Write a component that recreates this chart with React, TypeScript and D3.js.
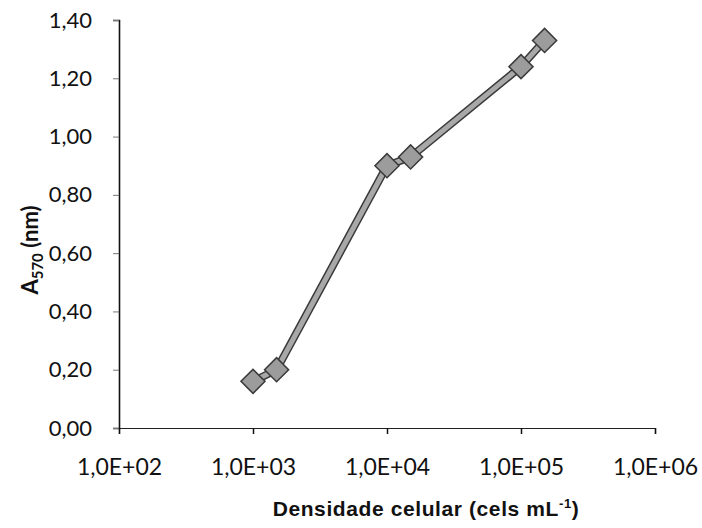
import React, { useEffect, useRef } from 'react';
import * as d3 from 'd3';

// cell density (cels/mL) and absorbance at 570 nm
const density = [1000, 1500, 10000, 15000, 100000, 150000];
const absorbance = [0.16, 0.2, 0.9, 0.93, 1.24, 1.33];
const xTicks = [1e2, 1e3, 1e4, 1e5, 1e6];
const yTicks = [0, 0.2, 0.4, 0.6, 0.8, 1.0, 1.2, 1.4];

const fmtY = (v) => v.toFixed(2).replace('.', ',');
const fmtX = (v) => '1,0E+' + String(Math.round(Math.log10(v))).padStart(2, '0');

const App = () => {
  const ref = useRef(null);

  useEffect(() => {
    if (ref.current) draw();
  }, []);

  const draw = () => {
    const left = 119,
      right = 655,
      top = 20,
      bottom = 428;

    const svg = d3.select(ref.current);
    svg.selectAll('*').remove();

    const x = d3.scaleLog().domain([1e2, 1e6]).range([left, right]);
    const y = d3.scaleLinear().domain([0, 1.4]).range([bottom, top]);

    const font = 'Lato, "Open Sans", sans-serif';

    // y axis
    const yAxis = svg
      .append('g')
      .attr('transform', `translate(${left},0)`)
      .call(d3.axisLeft(y).tickValues(yTicks).tickSize(6).tickFormat(fmtY));
    yAxis.select('.domain').attr('stroke', '#111').attr('stroke-width', 1.6);
    yAxis.selectAll('.tick line').attr('stroke', '#777').attr('stroke-width', 1);
    yAxis
      .selectAll('.tick text')
      .attr('x', -27)
      .attr('font-family', font)
      .attr('font-size', 22)
      .attr('fill', '#111');

    // x axis
    const xAxis = svg
      .append('g')
      .attr('transform', `translate(0,${bottom})`)
      .call(d3.axisBottom(x).tickValues(xTicks).tickSize(6).tickFormat(fmtX));
    xAxis.select('.domain').attr('stroke', '#222').attr('stroke-width', 1.2);
    xAxis.selectAll('.tick line').attr('stroke', '#111').attr('stroke-width', 1.5);
    xAxis
      .selectAll('.tick text')
      .attr('y', 31)
      .attr('font-family', font)
      .attr('font-size', 23)
      .attr('fill', '#111');

    // series line
    const line = d3
      .line()
      .x((d, i) => x(density[i]))
      .y((d) => y(d));
    svg
      .append('path')
      .attr('d', line(absorbance))
      .attr('fill', 'none')
      .attr('stroke', '#3a3a3a')
      .attr('stroke-width', 8)
      .attr('stroke-linejoin', 'round');
    svg
      .append('path')
      .attr('d', line(absorbance))
      .attr('fill', 'none')
      .attr('stroke', '#a8a8a8')
      .attr('stroke-width', 5)
      .attr('stroke-linejoin', 'round');

    // markers
    const sym = d3.symbol().type(d3.symbolSquare).size(290);
    svg
      .selectAll('.pt')
      .data(absorbance)
      .enter()
      .append('path')
      .attr('class', 'pt')
      .attr('d', sym)
      .attr('transform', (d, i) => `translate(${x(density[i])},${y(d)}) rotate(45)`)
      .attr('fill', '#9c9c9c')
      .attr('stroke', '#3a3a3a')
      .attr('stroke-width', 1.5);

    // axis titles
    const yt = svg
      .append('text')
      .attr('transform', `translate(38,250) rotate(-90)`)
      .attr('text-anchor', 'middle')
      .attr('font-family', font)
      .attr('font-weight', 'bold')
      .attr('font-size', 22)
      .attr('fill', '#111');
    yt.append('tspan').text('A');
    yt.append('tspan').attr('font-size', 15).attr('dy', 5).text('570');
    yt.append('tspan').attr('dy', -5).text(' (nm)');

    const xt = svg
      .append('text')
      .attr('x', 426)
      .attr('y', 516)
      .attr('text-anchor', 'middle')
      .attr('font-family', '"Liberation Sans", Arial, sans-serif')
      .attr('font-weight', 'bold')
      .attr('font-size', 21)
      .attr('letter-spacing', 0.6)
      .attr('fill', '#111');
    xt.append('tspan').text('Densidade celular (cels mL');
    xt.append('tspan').attr('font-size', 13).attr('dy', -8).text('-1');
    xt.append('tspan').attr('dy', 8).text(')');
  };

  return (
    <svg
      ref={ref}
      width={702}
      height={528}
      style={{ position: 'absolute', left: 0, top: 0, background: '#fff' }}
    />
  );
};

export default App;
